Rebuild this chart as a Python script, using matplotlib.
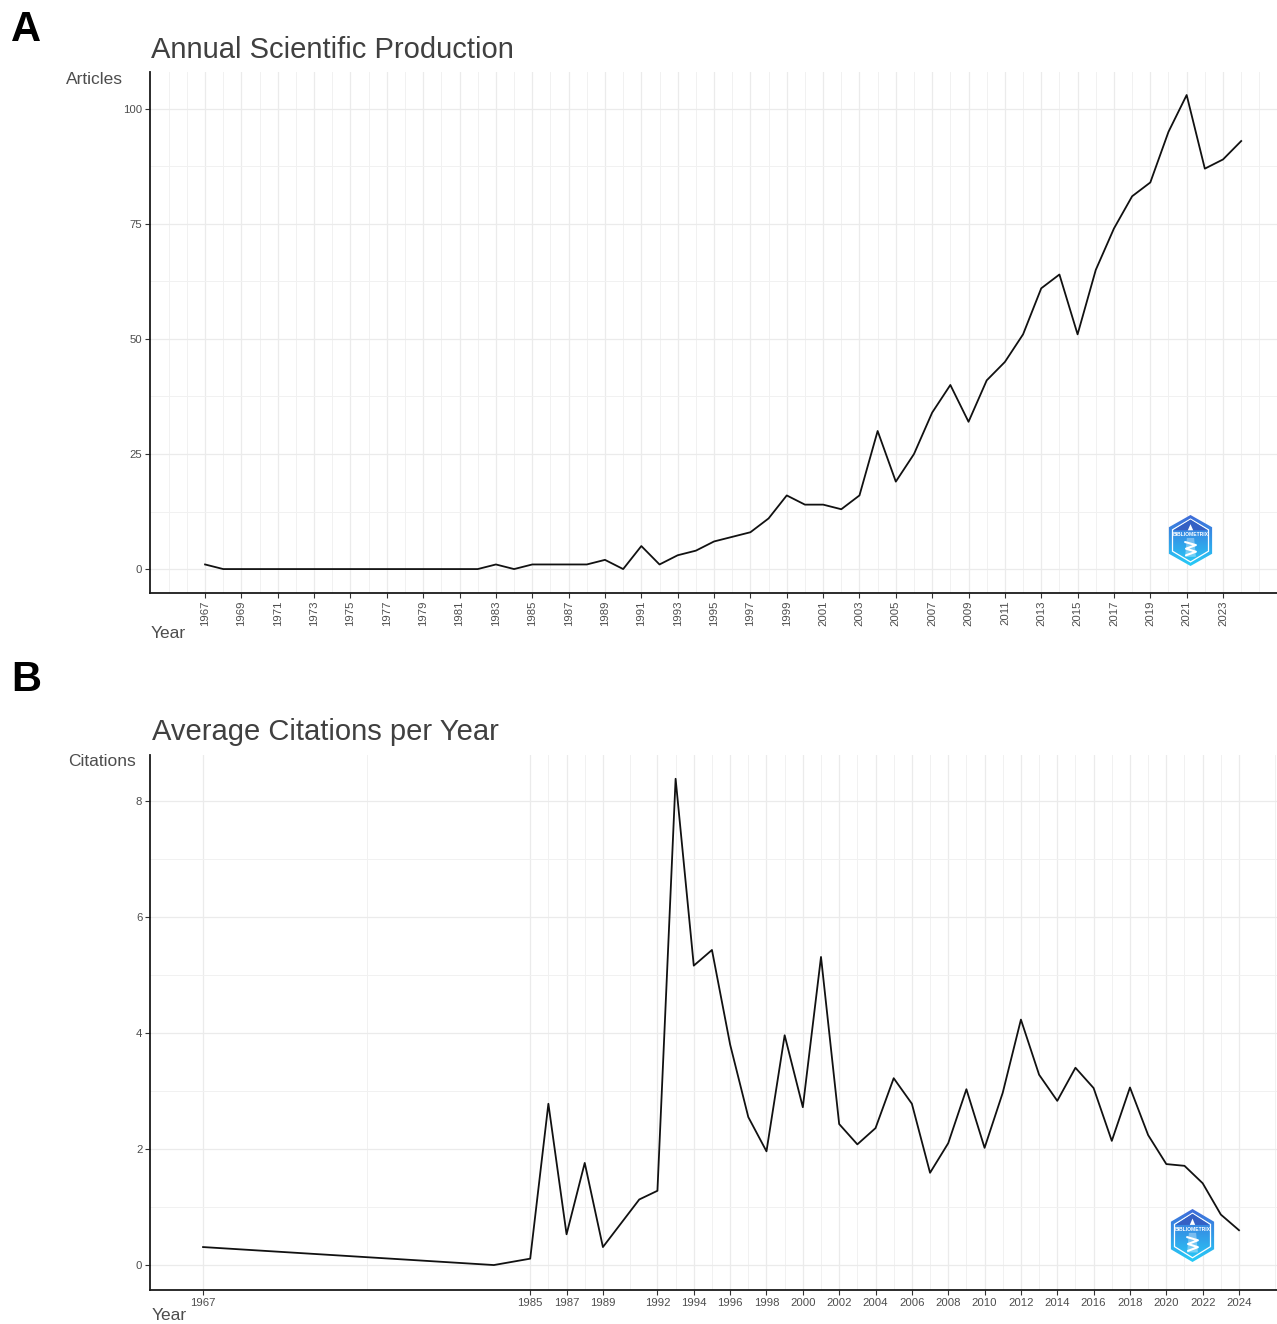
import matplotlib
matplotlib.use("Agg")
import matplotlib.pyplot as plt
import numpy as np
from matplotlib.patches import Polygon

# ---------------- data ----------------
years_a = list(range(1967, 2025))
articles = [1] + [0] * 15 + [1, 0, 1, 1, 1, 1, 2, 0, 5, 1, 3, 4, 6, 7, 8, 11, 16, 14, 14, 13,
                              16, 30, 19, 25, 34, 40, 32, 41, 45, 51, 61, 64, 51, 65, 74, 81,
                              84, 95, 103, 87, 89, 93]

years_b = [1967, 1983, 1985, 1986, 1987, 1988, 1989, 1991, 1992] + list(range(1993, 2025))
citations = [0.31, 0.00, 0.11, 2.78, 0.53, 1.76, 0.31, 1.13, 1.28,
             8.38, 5.16, 5.43, 3.80, 2.55, 1.96, 3.96, 2.72, 5.31, 2.43, 2.08,
             2.36, 3.22, 2.78, 1.59, 2.10, 3.03, 2.02, 2.97, 4.23, 3.28, 2.83,
             3.40, 3.05, 2.14, 3.06, 2.24, 1.74, 1.71, 1.41, 0.87, 0.60]

a_xticks = list(range(1967, 2024, 2))
a_yticks = [0, 25, 50, 75, 100]
b_xticks = years_b[::2]
b_yticks = [0, 2, 4, 6, 8]

# ---------------- figure ----------------
W, H = 1277, 1324
fig = plt.figure(figsize=(W / 100, H / 100), dpi=100)
fig.patch.set_facecolor("white")

FONT = ["Liberation Sans", "DejaVu Sans"]
TXT = "#4d4d4d"


def px_axes(x0, y0, x1, y1):
    return fig.add_axes([x0 / W, 1 - y1 / H, (x1 - x0) / W, (y1 - y0) / H])


def style(ax, xticks, xminor, yticks, yminor):
    for s in ["top", "right"]:
        ax.spines[s].set_visible(False)
    for s in ["left", "bottom"]:
        ax.spines[s].set_color("#1a1a1a")
        ax.spines[s].set_linewidth(1.3)
    ax.set_xticks(xticks)
    ax.set_xticks(xminor, minor=True)
    ax.set_yticks(yticks)
    ax.set_yticks(yminor, minor=True)
    ax.grid(which="major", color="#ebebeb", lw=0.9, zorder=0)
    ax.grid(which="minor", color="#f1f1f1", lw=0.7, zorder=0)
    ax.tick_params(which="major", length=3.5, width=0.8, color="#333333",
                   labelsize=8.2, labelcolor=TXT, pad=2)
    ax.tick_params(which="minor", length=0)
    ax.set_axisbelow(True)
    for lab in ax.get_yticklabels():
        lab.set_fontfamily(FONT)


def logo(x0, y0, x1, y1):
    lax = px_axes(x0, y0, x1, y1)
    lax.set_xlim(0, 1)
    lax.set_ylim(0, 1)
    lax.axis("off")
    grad = np.linspace(0, 1, 100).reshape(-1, 1)
    c_top = np.array([0.25, 0.42, 0.85])
    c_bot = np.array([0.15, 0.80, 0.97])
    img = c_top[None, None, :] * (1 - grad[:, :, None]) + c_bot[None, None, :] * grad[:, :, None]
    im = lax.imshow(img, extent=[0, 1, 0, 1], origin="upper", aspect="auto")
    hexpts = [(0.5, 1.0), (0.98, 0.76), (0.98, 0.24), (0.5, 0.0), (0.02, 0.24), (0.02, 0.76)]
    hp = Polygon(hexpts, closed=True, transform=lax.transData, facecolor="none", edgecolor="none")
    lax.add_patch(hp)
    im.set_clip_path(hp)
    inner = [(0.5, 0.92), (0.9, 0.71), (0.9, 0.29), (0.5, 0.08), (0.1, 0.29), (0.1, 0.71)]
    lax.add_patch(Polygon(inner, closed=True, facecolor="none", edgecolor="white", lw=0.9))
    lax.add_patch(Polygon([(0.12, 0.70), (0.5, 0.91), (0.88, 0.70)], closed=True,
                          facecolor="#3560c4", edgecolor="none"))
    lax.add_patch(Polygon([(0.44, 0.70), (0.5, 0.82), (0.56, 0.70)], closed=True,
                          facecolor="white", edgecolor="none"))
    lax.text(0.5, 0.62, "BIBLIOMETRIX", ha="center", va="center", fontsize=3.6,
             color="white", fontweight="bold", family=FONT)
    lax.add_patch(Polygon([(0.42, 0.55), (0.58, 0.55), (0.62, 0.18), (0.38, 0.18)], closed=True,
                          facecolor="white", edgecolor="none", alpha=0.35))
    lax.plot([0.38, 0.62, 0.40, 0.62, 0.40], [0.47, 0.41, 0.34, 0.28, 0.21],
             color="white", lw=1.5, solid_capstyle="round")


# ---------------- panel A ----------------
axA = px_axes(150, 72, 1277, 593)
axA.plot(years_a, articles, color="#111111", lw=1.3, zorder=3)
axA.set_xlim(1963.97, 2025.97)
axA.set_ylim(-5.2, 108.0)
style(axA, a_xticks, list(range(1965, 2026)), a_yticks, [12.5, 37.5, 62.5, 87.5])
axA.set_xticklabels([str(y) for y in a_xticks], rotation=90, family=FONT)

# ---------------- panel B ----------------
axB = px_axes(150, 755, 1277, 1290)
axB.plot(years_b, citations, color="#111111", lw=1.3, zorder=3)
axB.set_xlim(1964.08, 2026.09)
axB.set_ylim(-0.43, 8.79)
bmin = [(b_xticks[i] + b_xticks[i + 1]) / 2 for i in range(len(b_xticks) - 1)] + [2026]
style(axB, b_xticks, bmin, b_yticks, [1, 3, 5, 7])
axB.set_xticklabels([str(y) for y in b_xticks], family=FONT)

logo(1168, 515, 1213, 566)
logo(1170, 1209, 1215, 1262)

# ---------------- texts ----------------
def ftext(x, y, s, **kw):
    fig.text(x / W, 1 - y / H, s, **kw)

ftext(26, 30, "A", fontsize=30, fontweight="bold", family=FONT,
      ha="center", va="center", color="black")
ftext(26, 680, "B", fontsize=30, fontweight="bold", family=FONT,
      ha="center", va="center", color="black")
ftext(151, 50, "Annual Scientific Production", fontsize=21, family=FONT, color="#404040",
      ha="left", va="center")
ftext(152, 732, "Average Citations per Year", fontsize=21, family=FONT, color="#404040",
      ha="left", va="center")
ftext(123, 79, "Articles", fontsize=12.5, family=FONT, color=TXT, ha="right", va="center")
ftext(136, 762, "Citations", fontsize=12.5, family=FONT, color=TXT, ha="right", va="center")
ftext(151, 633, "Year", fontsize=12.5, family=FONT, color=TXT, ha="left", va="center")
ftext(152, 1315, "Year", fontsize=12.5, family=FONT, color=TXT, ha="left", va="center")

fig.savefig("out.png", dpi=100, facecolor="white")
